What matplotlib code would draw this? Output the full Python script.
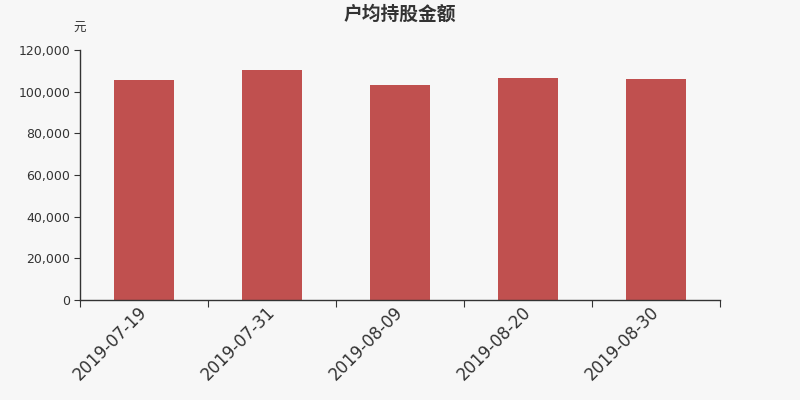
import matplotlib
matplotlib.use('Agg')
import matplotlib.pyplot as plt
import numpy as np
from matplotlib.ticker import FuncFormatter

plt.rcParams['font.family'] = ['DejaVu Sans', 'Noto Sans CJK SC']

# data
dates = ['2019-07-19', '2019-07-31', '2019-08-09', '2019-08-20', '2019-08-30']
amounts = [105800, 110600, 103300, 106800, 106300]
yticks = [0, 20000, 40000, 60000, 80000, 100000, 120000]

bg = '#f7f7f7'
bar_color = '#c0504f'
text_color = '#333333'
cjk = ['Noto Sans CJK SC', 'DejaVu Sans']

fig = plt.figure(figsize=(8, 4), dpi=100, facecolor=bg)
ax = fig.add_axes([0.1, 0.25, 0.8, 0.625], facecolor=bg)

x = np.arange(len(dates))
ax.bar(x, amounts, width=0.47, color=bar_color, zorder=2)

ax.set_xlim(-0.5, len(dates) - 0.5)
ax.set_ylim(0, 120000)

# ticks at category boundaries, labels at centers
ax.set_xticks(np.arange(len(dates) + 1) - 0.5)
ax.set_xticklabels([])
ax.set_xticks(x, minor=True)
ax.set_xticklabels(dates, minor=True, rotation=45, ha='right', va='center',
                   rotation_mode='anchor', fontsize=12, color=text_color)
ax.tick_params(axis='x', which='minor', length=0, pad=7)
ax.tick_params(axis='x', which='major', length=5, color=text_color)

ax.set_yticks(yticks)
ax.yaxis.set_major_formatter(FuncFormatter(lambda v, p: f'{int(v):,}'))
ax.tick_params(axis='y', length=4, labelsize=9, labelcolor=text_color, color=text_color, pad=3)

for s in ['top', 'right']:
    ax.spines[s].set_visible(False)
for s in ['left', 'bottom']:
    ax.spines[s].set_color(text_color)
    ax.spines[s].set_linewidth(1)

fig.text(0.5, 0.965, '户均持股金额', ha='center', va='center', fontsize=13.5,
         fontweight='bold', color=text_color, family=cjk)
fig.text(0.099, 0.928, '元', ha='center', va='center', fontsize=9,
         color=text_color, family=cjk)

fig.savefig('out.png', dpi=100, facecolor=bg)
